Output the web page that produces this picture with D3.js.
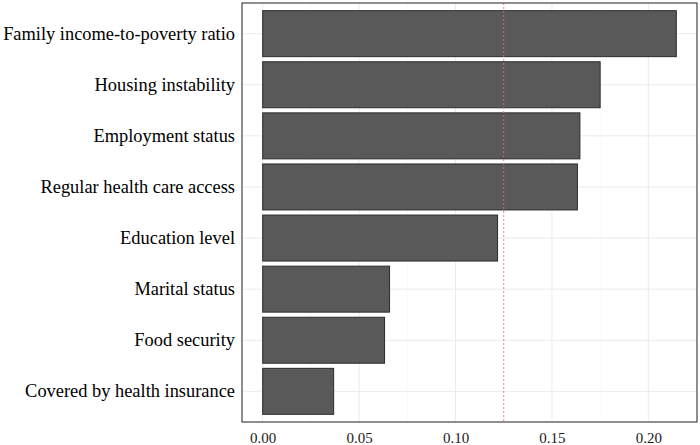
<!DOCTYPE html>
<html>
<head>
<meta charset="utf-8">
<script src="https://cdn.jsdelivr.net/npm/d3@7"></script>
<style>
  body { margin: 0; background: #fff; }
  text { font-family: "Liberation Serif", "Times New Roman", serif; }
</style>
</head>
<body>
<div class="viz"></div>
<script>
var features = [
  'Family income-to-poverty ratio',
  'Housing instability',
  'Employment status',
  'Regular health care access',
  'Education level',
  'Marital status',
  'Food security',
  'Covered by health insurance'
]
var importance = [0.2145, 0.175, 0.1645, 0.1632, 0.1218, 0.0658, 0.0632, 0.0368]
var xTicks = [0, 0.05, 0.10, 0.15, 0.20]
var threshold = 0.125

var width = 700,
    height = 445,
    margin = {top: 3, right: 3, bottom: 23, left: 242}

var svg = d3.select('.viz').append('svg')
  .attr('width', width)
  .attr('height', height)

var data = features.map(function(f, i){ return {feature: f, value: importance[i]} })

var w = width - margin.left - margin.right,
    h = height - margin.top - margin.bottom

var maxV = d3.max(importance)
var x = d3.scaleLinear()
  .domain([-maxV * 0.05, maxV * 1.05])
  .range([0, w])

// ggplot-like: bar width 0.9, 0.6 units expansion each side
var y = d3.scaleBand()
  .domain(features)
  .range([0, h])
  .paddingInner(0.1)
  .paddingOuter(0.15)

var g = svg.append('g')
  .attr('transform', 'translate(' + margin.left + ',' + margin.top + ')')

// minor grid
var minor = d3.range(0.025, 0.23, 0.05)
g.selectAll('.minor')
  .data(minor)
  .enter().append('line')
  .attr('x1', function(d){ return x(d) })
  .attr('x2', function(d){ return x(d) })
  .attr('y1', 0).attr('y2', h)
  .attr('stroke', '#f5f5f5')
  .attr('stroke-width', 0.6)

// major grid
g.selectAll('.vgrid')
  .data(xTicks)
  .enter().append('line')
  .attr('x1', function(d){ return x(d) })
  .attr('x2', function(d){ return x(d) })
  .attr('y1', 0).attr('y2', h)
  .attr('stroke', '#ebebeb')
  .attr('stroke-width', 1)

g.selectAll('.hgrid')
  .data(features)
  .enter().append('line')
  .attr('x1', 0).attr('x2', w)
  .attr('y1', function(d){ return y(d) + y.bandwidth() / 2 })
  .attr('y2', function(d){ return y(d) + y.bandwidth() / 2 })
  .attr('stroke', '#ebebeb')
  .attr('stroke-width', 1)

// bars
g.selectAll('.bar')
  .data(data)
  .enter().append('rect')
  .attr('x', x(0))
  .attr('y', function(d){ return y(d.feature) })
  .attr('width', function(d){ return x(d.value) - x(0) })
  .attr('height', y.bandwidth())
  .attr('fill', '#595959')
  .attr('stroke', '#2b2b2b')
  .attr('stroke-width', 1)

// threshold line
g.append('line')
  .attr('x1', x(threshold)).attr('x2', x(threshold))
  .attr('y1', 0).attr('y2', h)
  .attr('stroke', '#e0707a')
  .attr('stroke-width', 0.8)
  .attr('stroke-dasharray', '2,2')

// panel border
g.append('rect')
  .attr('width', w).attr('height', h)
  .attr('fill', 'none')
  .attr('stroke', '#333333')
  .attr('stroke-width', 1.1)

// axes (no tick marks)
var xAxis = d3.axisBottom(x)
  .tickValues(xTicks)
  .tickFormat(d3.format('.2f'))
  .tickSize(0)
  .tickPadding(10)

g.append('g')
  .attr('transform', 'translate(0,' + h + ')')
  .call(xAxis)
  .call(function(s){
    s.select('.domain').remove()
    s.selectAll('.tick line').remove()
    s.selectAll('text').attr('fill', '#1a1a1a').style('font-size', '15px')
      .style('font-family', '"Liberation Serif", serif')
  })

var yAxis = d3.axisLeft(y)
  .tickSize(0)
  .tickPadding(7)

g.append('g')
  .call(yAxis)
  .call(function(s){
    s.select('.domain').remove()
    s.selectAll('.tick line').remove()
    s.selectAll('text').attr('fill', '#000').style('font-size', '18.4px')
      .style('font-family', '"Liberation Serif", serif')
  })
</script>
</body>
</html>
